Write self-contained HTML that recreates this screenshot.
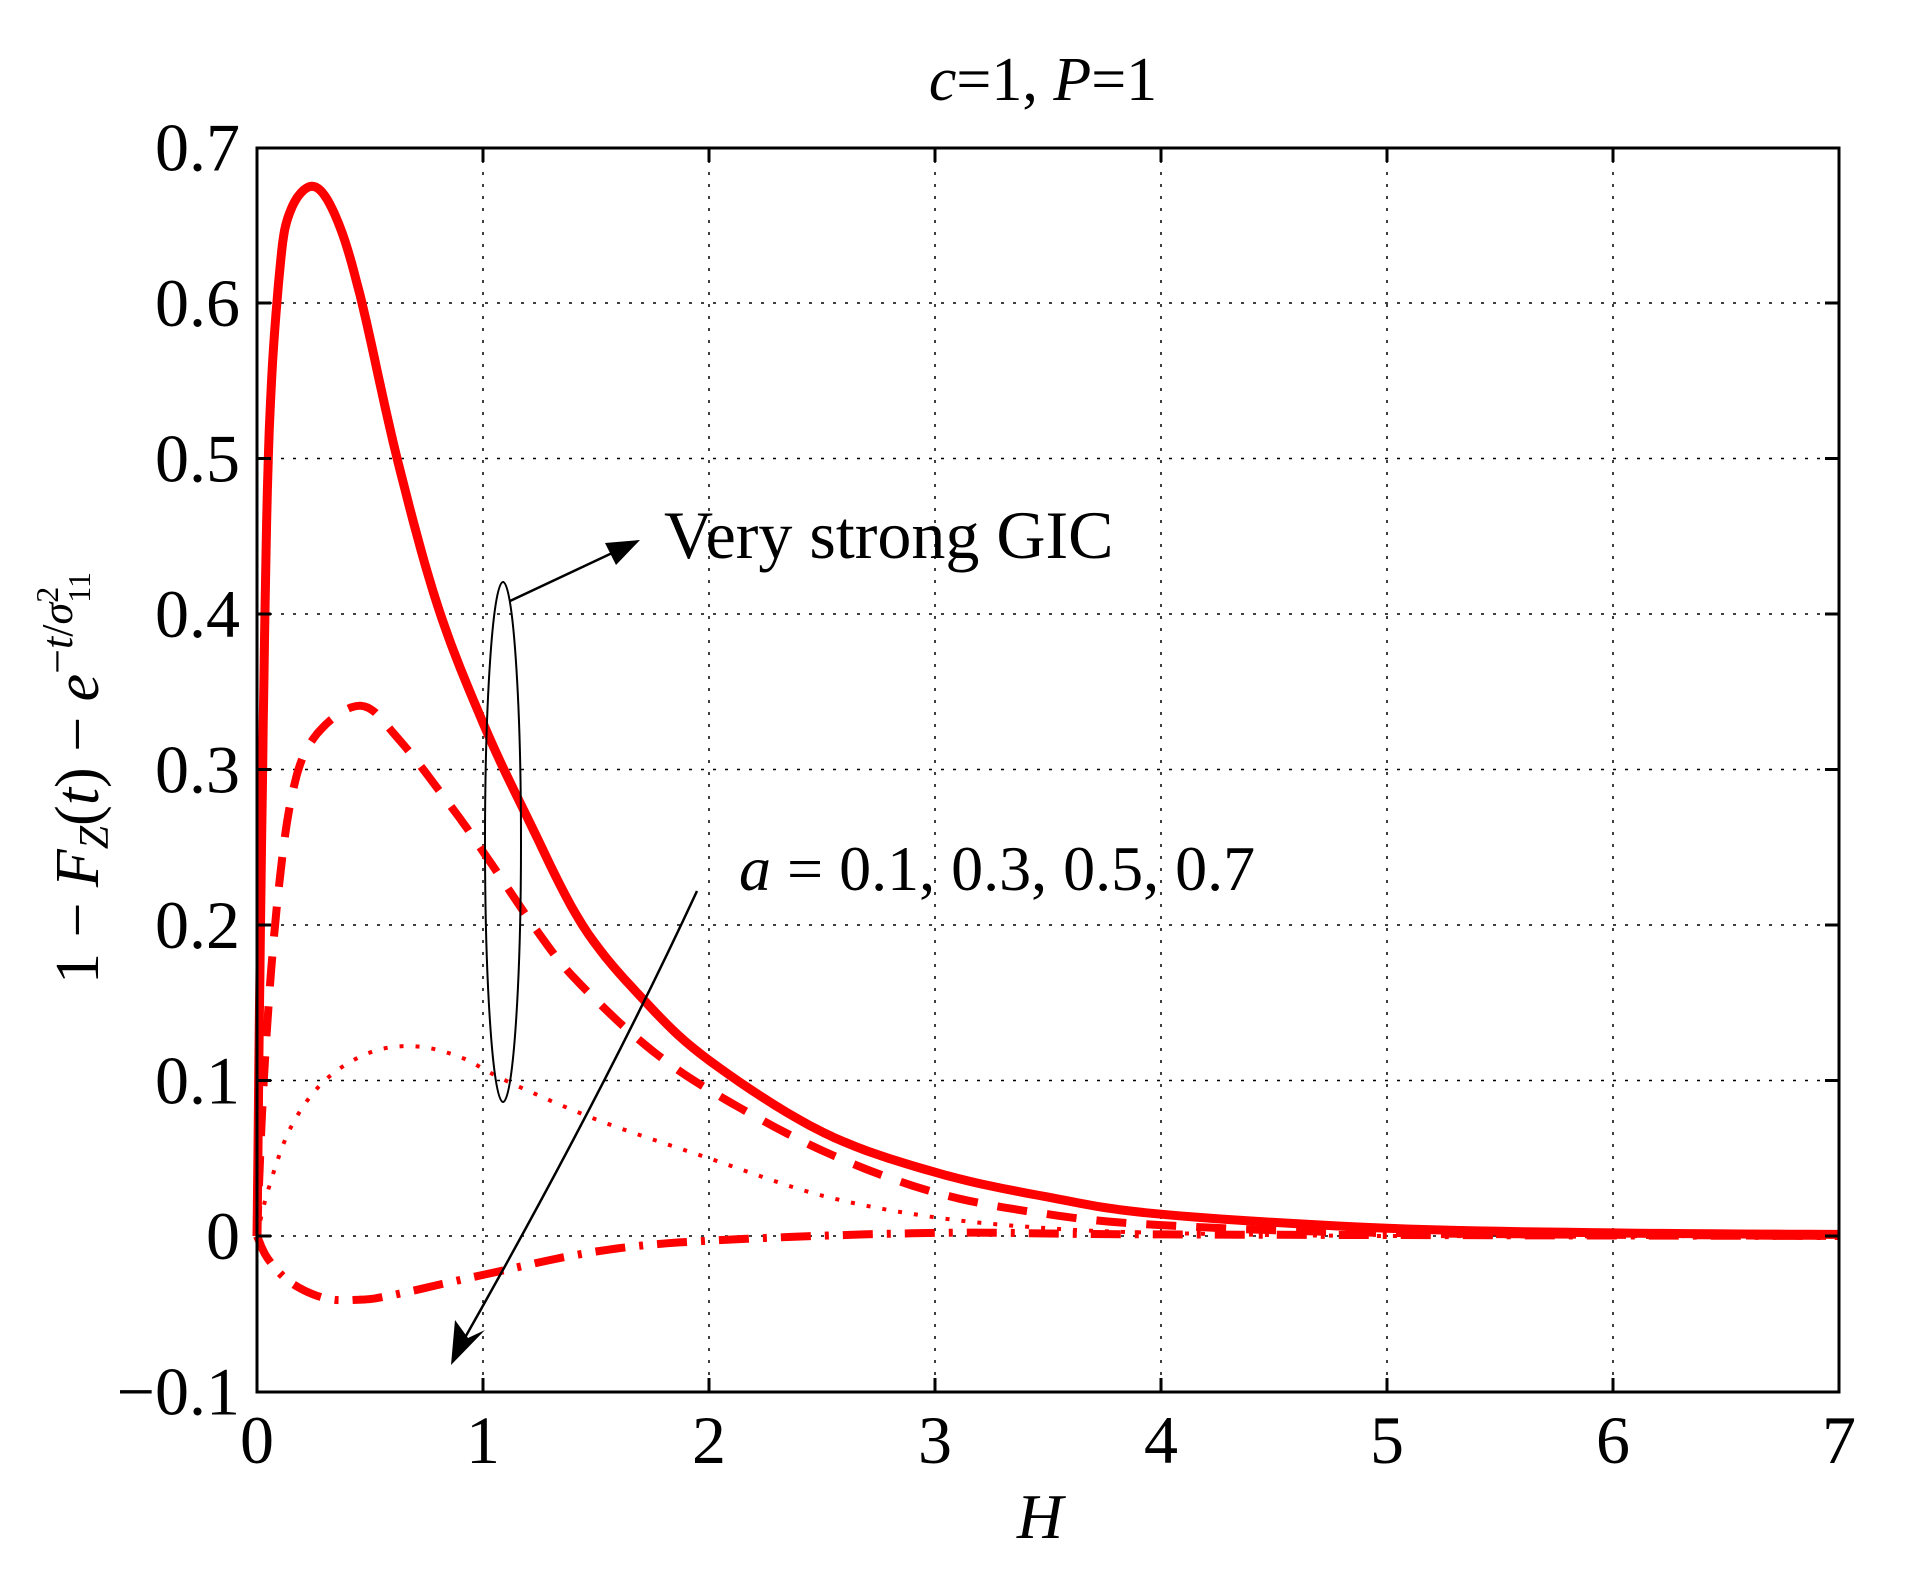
<!DOCTYPE html>
<html><head><meta charset="utf-8"><style>
html,body{margin:0;padding:0;background:#fff;}
svg{display:block;}
text{font-family:"Liberation Serif",serif;fill:#000;}
</style></head><body>
<svg id="s" width="1929" height="1584" viewBox="0 0 1929 1584" xmlns="http://www.w3.org/2000/svg">
<rect width="1929" height="1584" fill="#fff"/>
<g id="grid" stroke="#000" stroke-width="1.5" stroke-dasharray="3,9"></g>
<g id="curves" fill="none" stroke="#ff0000" stroke-linejoin="round"></g>
<rect x="257" y="148" width="1582" height="1244" fill="none" stroke="#000" stroke-width="3"/>
<g id="ticks" stroke="#000" stroke-width="3"></g>
<g id="labels" font-size="68"></g>
<text x="1043" y="100" font-size="62" text-anchor="middle"><tspan font-style="italic">c</tspan>=1, <tspan font-style="italic">P</tspan>=1</text>
<text x="1040" y="1538" font-size="64" font-style="italic" text-anchor="middle">H</text>
<text transform="translate(98,778) rotate(-90)" font-size="62" text-anchor="middle">1 − <tspan font-style="italic">F</tspan><tspan font-style="italic" font-size="42" dy="10">Z</tspan><tspan dy="-10">(</tspan><tspan font-style="italic">t</tspan>) − <tspan font-style="italic">e</tspan><tspan font-size="44" dy="-26">−</tspan><tspan font-size="44" font-style="italic">t</tspan><tspan font-size="44">/</tspan><tspan font-size="44" font-style="italic">σ</tspan><tspan font-size="32" dy="-14">2</tspan><tspan font-size="32" dx="-16" dy="32">11</tspan></text>
<ellipse cx="503" cy="842" rx="18" ry="260" fill="none" stroke="#000" stroke-width="2"/>
<line x1="510" y1="601" x2="625" y2="547" stroke="#000" stroke-width="2.5"/>
<polygon points="640,540 605,543 616,565" fill="#000"/>
<text x="664" y="558" font-size="68">Very strong GIC</text>
<path d="M697,891 Q600,1100 458,1350" fill="none" stroke="#000" stroke-width="2.5"/>
<polygon points="451,1365 455,1320 468,1338 485,1330" fill="#000"/>
<text x="739" y="890" font-size="64"><tspan font-style="italic">a</tspan> = 0.1, 0.3, 0.5, 0.7</text>
</svg>
<script>
var NS="http://www.w3.org/2000/svg";
function X(h){return 257+h*226;}
function Y(v){return 1236-v*1555;}
function el(p,t,a){var e=document.createElementNS(NS,t);for(var k in a)e.setAttribute(k,a[k]);document.getElementById(p).appendChild(e);return e;}
for(var i=1;i<7;i++){el("grid","line",{x1:X(i),y1:148,x2:X(i),y2:1392});
 el("ticks","line",{x1:X(i),y1:1392,x2:X(i),y2:1378});el("ticks","line",{x1:X(i),y1:148,x2:X(i),y2:162});}
for(var j=0;j<7;j++){var v=j/10;el("grid","line",{x1:257,y1:Y(v),x2:1839,y2:Y(v)});
 el("ticks","line",{x1:257,y1:Y(v),x2:271,y2:Y(v)});el("ticks","line",{x1:1839,y1:Y(v),x2:1825,y2:Y(v)});}
var yl=["−0.1","0","0.1","0.2","0.3","0.4","0.5","0.6","0.7"];
for(var j=0;j<9;j++){var t=el("labels","text",{x:240,y:Y((j-1)/10)+23,"text-anchor":"end"});t.textContent=yl[j];}
for(var i=0;i<8;i++){var t=el("labels","text",{x:X(i),y:1463,"text-anchor":"middle"});t.textContent=i;}
function interp(pts){var out=[];for(var k=0;k<pts.length-1;k++){var p0=pts[k-1]||pts[k],p1=pts[k],p2=pts[k+1],p3=pts[k+2]||pts[k+1];
 for(var s=0;s<10;s++){var u=s/10,u2=u*u,u3=u2*u;
 var f=function(a,b,c,d){return 0.5*((2*b)+(-a+c)*u+(2*a-5*b+4*c-d)*u2+(-a+3*b-3*c+d)*u3);};
 out.push([f(p0[0],p1[0],p2[0],p3[0]),f(p0[1],p1[1],p2[1],p3[1])]);}}
 out.push(pts[pts.length-1]);return out.map(function(p){return X(p[0]).toFixed(1)+","+Y(p[1]).toFixed(1);}).join(" ");}
var S=[[0,0],[0.02,0.25],[0.05,0.5],[0.1,0.62],[0.15,0.66],[0.25,0.675],[0.35,0.655],[0.456,0.605],[0.62,0.5],[0.8,0.405],[1.0,0.33],[1.2,0.268],[1.44,0.2],[1.71,0.152],[2,0.113],[2.5,0.067],[3,0.041],[3.5,0.025],[4,0.014],[5,0.005],[6,0.002],[7,0.001]];
var D=[[0,0],[0.03,0.1],[0.08,0.2],[0.15,0.28],[0.25,0.32],[0.456,0.341],[0.63,0.319],[0.88,0.272],[1.02,0.243],[1.25,0.194],[1.41,0.165],[1.7,0.125],[2,0.094],[2.5,0.055],[3,0.028],[3.5,0.014],[4,0.007],[5,0.002],[7,0]];
var O=[[0,0],[0.05,0.03],[0.15,0.07],[0.3,0.1],[0.5,0.118],[0.7,0.122],[0.9,0.115],[1.1,0.1],[1.5,0.075],[2,0.05],[2.5,0.026],[3,0.012],[3.5,0.005],[4,0.002],[5,0],[7,0]];
var C=[[0,0],[0.05,-0.015],[0.15,-0.03],[0.3,-0.04],[0.45,-0.041],[0.6,-0.038],[1,-0.025],[1.5,-0.01],[2,-0.003],[3,0.002],[4,0.001],[7,0]];
el("curves","polyline",{points:interp(S),"stroke-width":9});
el("curves","polyline",{points:interp(D),"stroke-width":8,"stroke-dasharray":"30,20"});
el("curves","polyline",{points:interp(O),"stroke-width":4,"stroke-dasharray":"4,12"});
el("curves","polyline",{points:interp(C),"stroke-width":8,"stroke-dasharray":"30,14,4,14"});
</script>
</body></html>
